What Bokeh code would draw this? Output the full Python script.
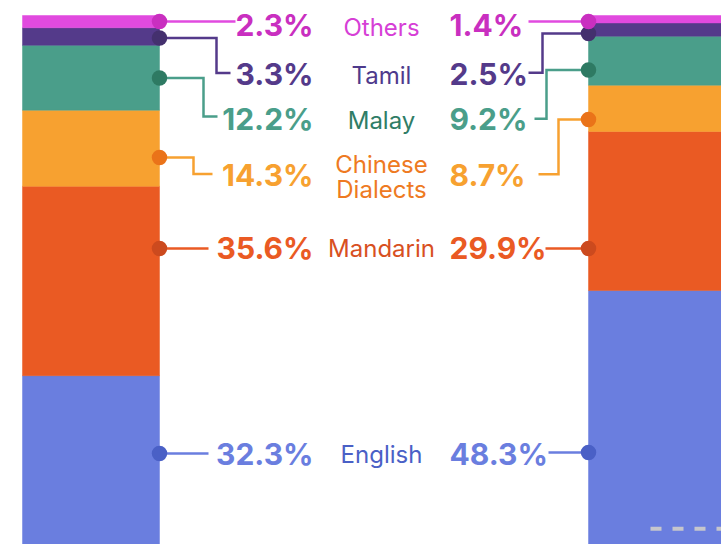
from bokeh.plotting import figure
from bokeh.models import Range1d, ColumnDataSource
from bokeh.embed import file_html
from bokeh.resources import INLINE
from bokeh.core.properties import value
import numpy as np

# ---------------- data ----------------
categories = ["English", "Mandarin", "Chinese Dialects", "Malay", "Tamil", "Others"]
category_labels = ["English", "Mandarin", "Chinese\nDialects", "Malay", "Tamil", "Others"]
years = ["2010", "2020"]
share_2010 = [32.3, 35.6, 14.3, 12.2, 3.3, 2.3]
share_2020 = [48.3, 29.9, 8.7, 9.2, 2.5, 1.4]

# ---------------- styles ----------------
bar_colors = ["#6A7EDF", "#EA5A23", "#F7A130", "#4A9E8A", "#543A8A", "#E14ADF"]
dot_colors = ["#4A60C6", "#CC4A1E", "#EA7319", "#2E7A63", "#44306E", "#C92FC0"]
pct_colors = ["#6A7EDF", "#EA5A23", "#F7A130", "#4A9E8A", "#543A8A", "#C92FC0"]
label_colors = ["#4A60C6", "#D8501F", "#EE7A22", "#2F7D66", "#4E3A8C", "#D63FD6"]
FONT = "Inter"

W, H = 721, 544
PX_PER_YEAR = 566.0
PX_PER_PCT = 5.32
BAR_W_PX = 137.0
C0 = 90.5   # page x of first bar centre
TOP = 15.0  # page y of 100 %
LINE_GAP = 25.0  # px between lines of a two-line label

def fx(px):
    return (px - C0) / PX_PER_YEAR

def fy(py):
    return 100.0 - (py - TOP) / PX_PER_PCT

p = figure(width=W, height=H, output_backend="svg", toolbar_location=None,
           x_range=Range1d(fx(0), fx(W)), y_range=Range1d(fy(H), fy(0)),
           min_border=0, min_border_left=0, min_border_right=0,
           min_border_top=0, min_border_bottom=0)
p.axis.visible = False
p.grid.visible = False
p.outline_line_color = None
p.background_fill_color = "white"
p.border_fill_color = "white"

# ---------------- stacked bars ----------------
for i, shares in enumerate([share_2010, share_2020]):
    tops = np.cumsum(shares)
    bottoms = tops - np.array(shares)
    src = ColumnDataSource(dict(x=[i] * len(shares), bottom=bottoms, top=tops,
                                color=bar_colors))
    p.vbar(x="x", bottom="bottom", top="top", width=BAR_W_PX / PX_PER_YEAR,
           fill_color="color", line_color="color", line_width=0.5, source=src)

# faint dashed line inside the right bar
p.line(x=[fx(650), fx(721)], y=[fy(528.3)] * 2, line_color="#C6C6CC",
       line_width=4, line_dash="11 11")

# ---------------- connectors (page pixel layout) ----------------
left_paths = [
    [(159, 453), (208, 453)],
    [(159, 248), (208, 248)],
    [(159, 157), (193, 157), (193, 173.5), (212, 173.5)],
    [(159, 77.5), (203, 77.5), (203, 116), (217, 116)],
    [(159, 37.5), (216, 37.5), (216, 72.5), (230, 72.5)],
    [(159, 21), (235, 21)],
]
right_paths = [
    [(588, 452), (548, 452)],
    [(588, 248), (545, 248)],
    [(588, 119), (558, 119), (558, 173.7), (538, 173.7)],
    [(588, 69.5), (546, 69.5), (546, 118.3), (534, 118.3)],
    [(588, 33), (542, 33), (542, 72.3), (528, 72.3)],
    [(588, 21), (528, 21)],
]
for paths in (left_paths, right_paths):
    xs = [[fx(a) for a, b in path] for path in paths]
    ys = [[fy(b) for a, b in path] for path in paths]
    p.multi_line(xs=xs, ys=ys, line_color=bar_colors, line_width=2.5,
                 line_join="miter")
    p.scatter(x=[fx(path[0][0]) for path in paths],
              y=[fy(path[0][1]) for path in paths],
              size=15.5, fill_color=dot_colors, line_color=None)

# ---------------- texts ----------------
row_y = [453, 247.5, 174, 118, 73.5, 24.5]
label_y = [454, 247.5, 176.5, 120, 75, 26.7]

left_txt = ColumnDataSource(dict(
    x=[fx(313)] * 6, y=[fy(v) for v in row_y],
    text=[f"{v:.1f}%" for v in share_2010], color=pct_colors))
p.text(x="x", y="y", text="text", source=left_txt, text_color="color",
       text_font=value(FONT), text_font_style="bold", text_font_size="30px",
       text_align="right", text_baseline="middle")

right_txt = ColumnDataSource(dict(
    x=[fx(449)] * 6, y=[fy(v) for v in row_y],
    text=[f"{v:.1f}%" for v in share_2020], color=pct_colors))
p.text(x="x", y="y", text="text", source=right_txt, text_color="color",
       text_font=value(FONT), text_font_style="bold", text_font_size="30px",
       text_align="left", text_baseline="middle")

# category labels: split multi-line labels into separate lines
lx, ly, lt, lc = [], [], [], []
for lab, yc, col in zip(category_labels, label_y, label_colors):
    parts = lab.split("\n")
    n = len(parts)
    for k, part in enumerate(parts):
        lx.append(fx(381))
        ly.append(fy(yc + (k - (n - 1) / 2) * LINE_GAP))
        lt.append(part)
        lc.append(col)
lab_src = ColumnDataSource(dict(x=lx, y=ly, text=lt, color=lc))
p.text(x="x", y="y", text="text", source=lab_src, text_color="color",
       text_font=value(FONT), text_font_size="24px",
       text_align="center", text_baseline="middle")

open("out.html", "w").write(file_html(p, INLINE))
